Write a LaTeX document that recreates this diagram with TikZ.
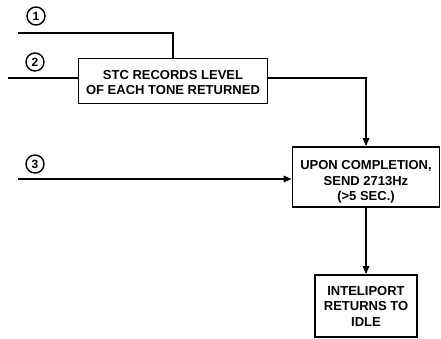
\documentclass[tikz,border=0pt]{standalone}
\usepackage{fontspec}
\setmainfont{Liberation Sans}
\usetikzlibrary{arrows.meta}
\begin{document}
\begin{tikzpicture}[x=1pt,y=-1pt,
  box/.style={draw,line width=1.7pt,align=center,inner sep=0pt,font=\bfseries\fontsize{13}{15.5}\selectfont},
  num/.style={draw,circle,line width=1.4pt,minimum size=18pt,inner sep=0pt,font=\bfseries\fontsize{12}{12}\selectfont},
  wire/.style={line width=1.3pt},
  arr/.style={wire,-{Triangle[length=8pt,width=6.5pt]}}]
\useasboundingbox (0,0) rectangle (441,339);
\node[box,minimum width=189pt,minimum height=45pt] (b1) at (173,81) {\raisebox{-3pt}[\height][\depth]{\begin{tabular}{@{}c@{}}STC RECORDS LEVEL\\OF EACH TONE RETURNED\end{tabular}}};
\node[box,minimum width=147pt,minimum height=60pt] (b2) at (366,177) {\raisebox{-5pt}[\height][\depth]{\begin{tabular}{@{}c@{}}UPON COMPLETION,\\SEND 2713Hz\\(>5 SEC.)\end{tabular}}};
\node[box,minimum width=102pt,minimum height=62pt] (b3) at (366,306) {INTELIPORT\\RETURNS TO\\IDLE};
\node[num] (n1) at (36,16) {1};
\node[num] (n2) at (35,62) {2};
\node[num] (n3) at (35,164) {3};
\coordinate (s1) at (18,33);
\coordinate (s2) at (8,78);
\coordinate (s3) at (18,179);
\draw[wire] (s1) -| (b1.north);
\draw[wire] (s2) -- (s2 -| b1.west);
\draw[arr] (b1.east |- s2) -| (b2.north);
\draw[arr] (s3) -- (s3 -| b2.west);
\draw[arr] (b2.south) -- (b3.north);
\end{tikzpicture}
\end{document}
